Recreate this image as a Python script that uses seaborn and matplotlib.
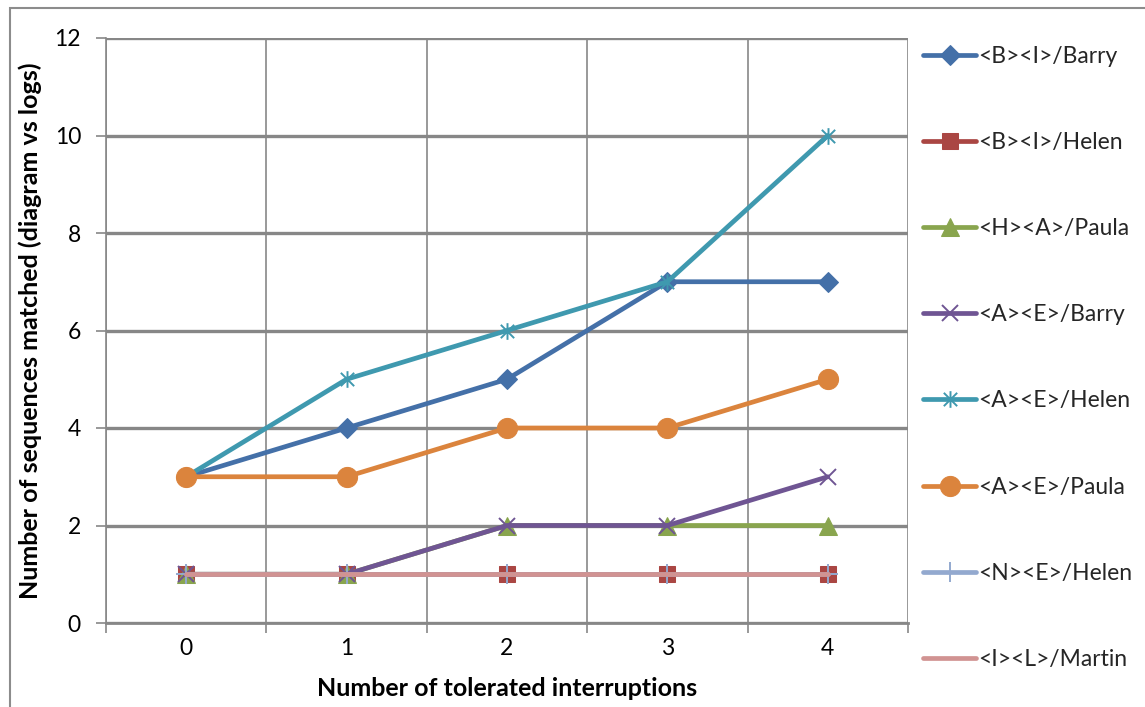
import matplotlib
matplotlib.use("Agg")
import matplotlib.pyplot as plt
from matplotlib.path import Path
from matplotlib.patches import Rectangle
import numpy as np
import pandas as pd
import seaborn as sns

# Number of tolerated interruptions
interruptions = [0, 1, 2, 3, 4]

series_names = [
    "<B><I>/Barry",
    "<B><I>/Helen",
    "<H><A>/Paula",
    "<A><E>/Barry",
    "<A><E>/Helen",
    "<A><E>/Paula",
    "<N><E>/Helen",
    "<I><L>/Martin",
]

bi_barry = [3, 4, 5, 7, 7]
bi_helen = [1, 1, 1, 1, 1]
ha_paula = [1, 1, 2, 2, 2]
ae_barry = [1, 1, 2, 2, 3]
ae_helen = [3, 5, 6, 7, 10]
ae_paula = [3, 3, 4, 4, 5]
ne_helen = [1, 1, 1, 1, 1]
il_martin = [1, 1, 1, 1, 1]

values = [bi_barry, bi_helen, ha_paula, ae_barry, ae_helen, ae_paula, ne_helen, il_martin]

colors = ["#4470A8", "#AA4643", "#89A54E", "#6F5593", "#3F99AF", "#DB843D", "#93A9CF", "#D19392"]

# asterisk: one vertical stroke plus two diagonals
asterisk = Path(
    [(0, -1), (0, 1), (-0.8, -0.8), (0.8, 0.8), (-0.8, 0.8), (0.8, -0.8)],
    [Path.MOVETO, Path.LINETO, Path.MOVETO, Path.LINETO, Path.MOVETO, Path.LINETO],
)

styles = [
    dict(marker="D", markersize=10.5),
    dict(marker="s", markersize=11),
    dict(marker="^", markersize=13),
    dict(marker="x", markersize=12, markeredgewidth=1.4),
    dict(marker=asterisk, markersize=12, markeredgewidth=1.4),
    dict(marker="o", markersize=14.5),
    dict(marker="+", markersize=14, markeredgewidth=1.4),
    dict(marker=None),
]

rows = []
for name, vals in zip(series_names, values):
    for x, v in zip(interruptions, vals):
        rows.append({"interruptions": x, "matched": v, "series": name})
df = pd.DataFrame(rows)

sns.set_theme(style="white")
plt.rcParams["font.family"] = ["Lato", "DejaVu Sans"]

fig = plt.figure(figsize=(11.45, 7.07), dpi=100)
ax = fig.add_axes([106 / 1145, 1 - 623 / 707, (908 - 106) / 1145, (623 - 38) / 707])

for i, name in enumerate(series_names):
    sub = df[df["series"] == name]
    st = dict(styles[i])
    mk = st.pop("marker")
    kw = dict(color=colors[i], linewidth=3.4, zorder=3 + i)
    if mk is not None:
        kw.update(marker=mk, markeredgecolor=colors[i], markerfacecolor=colors[i], **st)
    sns.lineplot(data=sub, x="interruptions", y="matched", ax=ax, label=name,
                 errorbar=None, **kw)

ax.set_xlim(-0.5, 4.5)
ax.set_ylim(0, 12)
ax.set_yticks(np.arange(0, 13, 2))
ax.set_xticks(interruptions)
ax.set_xticks(np.arange(-0.5, 5.0, 1.0), minor=True)

grid_c = "#878787"
ax.yaxis.grid(True, color=grid_c, linewidth=2.4, zorder=0)
ax.xaxis.grid(True, which="minor", color=grid_c, linewidth=1.2, zorder=0)
ax.xaxis.grid(False, which="major")
ax.set_axisbelow(True)

for side in ["top", "right"]:
    ax.spines[side].set_visible(False)
ax.spines["left"].set_color(grid_c)
ax.spines["left"].set_linewidth(1.2)
ax.spines["bottom"].set_color(grid_c)
ax.spines["bottom"].set_linewidth(2.0)

ax.tick_params(axis="y", which="major", direction="out", length=7, width=1.2,
               color=grid_c, left=True, labelsize=16.5, pad=11, labelcolor="black")
ax.tick_params(axis="x", which="major", length=0, labelsize=16.5, pad=11, labelcolor="black")
ax.tick_params(axis="x", which="minor", direction="out", length=7, width=1.2,
               color=grid_c, bottom=True)

ax.set_xlabel("Number of tolerated interruptions", fontsize=18, fontweight="bold",
              labelpad=13, color="black")
ax.set_ylabel("Number of sequences matched (diagram vs logs)", fontsize=18,
              fontweight="bold", labelpad=9, color="black")

handles, labels = ax.get_legend_handles_labels()
if ax.legend_ is not None:
    ax.legend_.remove()
fig.legend(handles, labels, loc="upper left", bbox_to_anchor=(914 / 1145, 1 - 37 / 707),
           frameon=False, fontsize=16.5, handlelength=2.3, handletextpad=0.12,
           labelspacing=2.84, borderaxespad=0)

# outer chart border
fig.patches.append(Rectangle((10 / 1145, -0.1), 1.2, 1 - 8 / 707 + 0.1,
                             transform=fig.transFigure, fill=False,
                             edgecolor="#8C8C8C", linewidth=1.5))

fig.savefig("out.png", dpi=100)
